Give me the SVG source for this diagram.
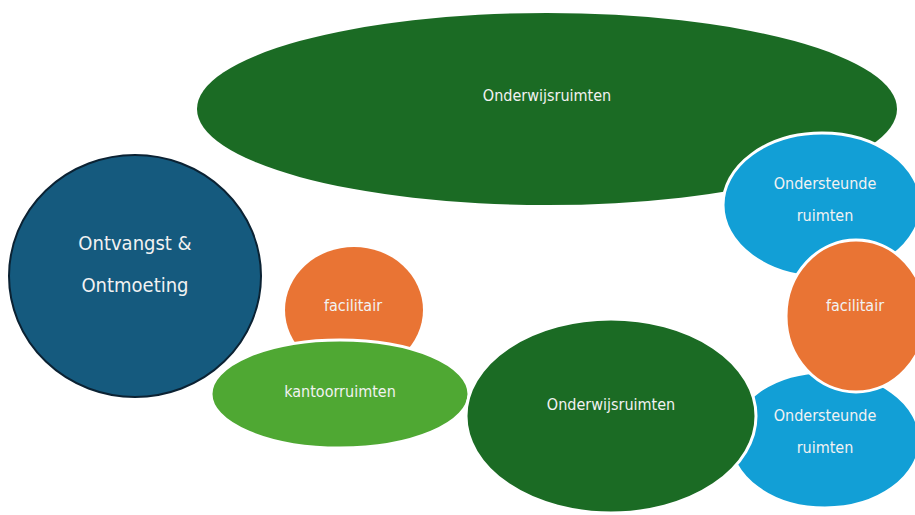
<svg xmlns="http://www.w3.org/2000/svg" width="915" height="515" viewBox="0 0 915 515">
<style>
.lbl{font-family:"DejaVu Sans Condensed","Liberation Sans",sans-serif;fill:#f2f2f2;text-anchor:middle;dominant-baseline:central}
.s{font-size:16px}
.b{font-size:20px}
.w{stroke:#ffffff;stroke-width:3}
</style>
<rect width="915" height="515" fill="#ffffff"/>
<g id="onderwijs-top">
<ellipse cx="547" cy="109" rx="350" ry="96" fill="#1b6b24"/>
<text class="lbl s" x="547" y="95">Onderwijsruimten</text>
</g>
<g id="ontvangst">
<ellipse cx="135" cy="276" rx="126" ry="121" fill="#155a7e" stroke="#0b2233" stroke-width="2"/>
<text class="lbl b" x="135" y="243">Ontvangst &amp;</text>
<text class="lbl b" x="135" y="285">Ontmoeting</text>
</g>
<g id="ondersteunde-top">
<ellipse class="w" cx="822" cy="205" rx="99" ry="72" fill="#129fd6"/>
<text class="lbl s" x="825" y="183">Ondersteunde</text>
<text class="lbl s" x="825" y="215">ruimten</text>
</g>
<g id="ondersteunde-bottom">
<ellipse class="w" cx="825" cy="440" rx="95" ry="68" fill="#129fd6"/>
<text class="lbl s" x="825" y="415">Ondersteunde</text>
<text class="lbl s" x="825" y="447">ruimten</text>
</g>
<g id="facilitair-right">
<ellipse class="w" cx="856" cy="316" rx="70" ry="76" fill="#e97434"/>
<text class="lbl s" x="855" y="305">facilitair</text>
</g>
<g id="facilitair-left">
<ellipse cx="354" cy="310" rx="69" ry="63" fill="#e97434"/>
<text class="lbl s" x="353" y="305">facilitair</text>
</g>
<g id="kantoorruimten">
<ellipse class="w" cx="340" cy="394" rx="129" ry="54" fill="#4fa833"/>
<text class="lbl s" x="340" y="391">kantoorruimten</text>
</g>
<g id="onderwijs-bottom">
<ellipse class="w" cx="611" cy="416" rx="145" ry="97" fill="#1b6b24"/>
<text class="lbl s" x="611" y="404">Onderwijsruimten</text>
</g>
<g id="connectors"></g>
</svg>
